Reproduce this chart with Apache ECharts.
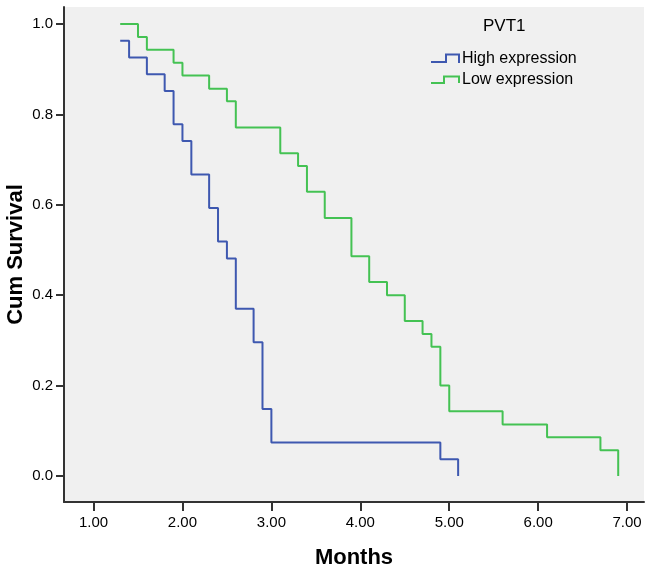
<!DOCTYPE html>
<html>
<head>
<meta charset="utf-8">
<script src="https://cdn.jsdelivr.net/npm/echarts@6/dist/echarts.min.js"></script>
<style>
html,body{margin:0;padding:0;background:#fff;}
#chart{width:650px;height:572px;}
</style>
</head>
<body>
<div id="chart"></div>
<script>
// Data
var highTimes = [1.3, 1.4, 1.6, 1.8, 1.9, 2.0, 2.1, 2.3, 2.4, 2.5, 2.6, 2.8, 2.9, 3.0, 4.9, 5.1];
var highSurv  = [0.963, 0.926, 0.889, 0.852, 0.778, 0.741, 0.667, 0.593, 0.519, 0.481, 0.370, 0.296, 0.148, 0.074, 0.037, 0.0];
var lowTimes  = [1.3, 1.5, 1.6, 1.9, 2.0, 2.3, 2.5, 2.6, 3.1, 3.3, 3.4, 3.6, 3.9, 4.1, 4.3, 4.5, 4.7, 4.8, 4.9, 5.0, 5.6, 6.1, 6.7, 6.9];
var lowSurv   = [1.0, 0.971, 0.943, 0.914, 0.886, 0.857, 0.829, 0.771, 0.714, 0.686, 0.629, 0.571, 0.486, 0.429, 0.400, 0.343, 0.314, 0.286, 0.200, 0.143, 0.114, 0.086, 0.057, 0.0];
var xTicks = [1, 2, 3, 4, 5, 6, 7];
var yTicks = [0, 0.2, 0.4, 0.6, 0.8, 1.0];
var seriesNames = ['High expression', 'Low expression'];
var legendTitle = 'PVT1';
var colors = ['#3e58b0', '#44c253'];

function pairs(t, s) { return t.map(function (v, i) { return [v, s[i]]; }); }

var FONT = 'Liberation Sans, Arial, sans-serif';
var chart = echarts.init(document.getElementById('chart'));
chart.setOption({
  animation: false,
  backgroundColor: '#ffffff',
  grid: { left: 64, right: 6, top: 7, bottom: 70, show: true, backgroundColor: '#f0f0f0', borderWidth: 0,
    containLabel: false, outerBoundsMode: 'none' },
  xAxis: {
    type: 'value', min: 0.668, max: 7.19,
    name: 'Months', nameLocation: 'middle', nameGap: 45,
    nameTextStyle: { fontFamily: FONT, fontWeight: 'bold', fontSize: 22, color: '#000' },
    axisLine: { show: true, onZero: false, lineStyle: { color: '#333', width: 2 } },
    axisTick: { show: true, length: 9, lineStyle: { color: '#333', width: 2 }, customValues: xTicks },
    axisLabel: { customValues: xTicks, margin: 13, fontFamily: FONT, fontSize: 15, color: '#000',
      formatter: function (v) { return v.toFixed(2); } },
    splitLine: { show: false }
  },
  yAxis: {
    type: 'value', min: -0.0575, max: 1.0376,
    name: 'Cum Survival', nameLocation: 'middle', nameGap: 37, nameMoveOverlap: false,
    nameTextStyle: { fontFamily: FONT, fontWeight: 'bold', fontSize: 22, color: '#000' },
    axisLine: { show: true, onZero: false, lineStyle: { color: '#333', width: 2 } },
    axisTick: { show: true, length: 8, lineStyle: { color: '#333', width: 2 }, customValues: yTicks },
    axisLabel: { customValues: yTicks, margin: 11, fontFamily: FONT, fontSize: 15, color: '#000',
      formatter: function (v) { return v.toFixed(1); } },
    splitLine: { show: false }
  },
  series: [
    { name: seriesNames[0], type: 'line', step: 'end', showSymbol: false, data: pairs(highTimes, highSurv),
      lineStyle: { color: colors[0], width: 2 }, itemStyle: { color: colors[0] } },
    { name: seriesNames[1], type: 'line', step: 'end', showSymbol: false, data: pairs(lowTimes, lowSurv),
      lineStyle: { color: colors[1], width: 2 }, itemStyle: { color: colors[1] } }
  ],
  graphic: [
    { type: 'text', left: 483, top: 18, style: { text: legendTitle, font: '17px ' + FONT, fill: '#000' } },
    { type: 'polyline', shape: { points: [[431, 62], [446, 62], [446, 54.5], [459, 54.5], [459, 63]] },
      style: { stroke: colors[0], lineWidth: 2, fill: null } },
    { type: 'text', left: 462, top: 51, style: { text: seriesNames[0], font: '16px ' + FONT, fill: '#000' } },
    { type: 'polyline', shape: { points: [[431, 83], [444, 83], [444, 76.5], [459, 76.5], [459, 83]] },
      style: { stroke: colors[1], lineWidth: 2, fill: null } },
    { type: 'text', left: 462, top: 72, style: { text: seriesNames[1], font: '16px ' + FONT, fill: '#000' } }
  ]
});
</script>
</body>
</html>
